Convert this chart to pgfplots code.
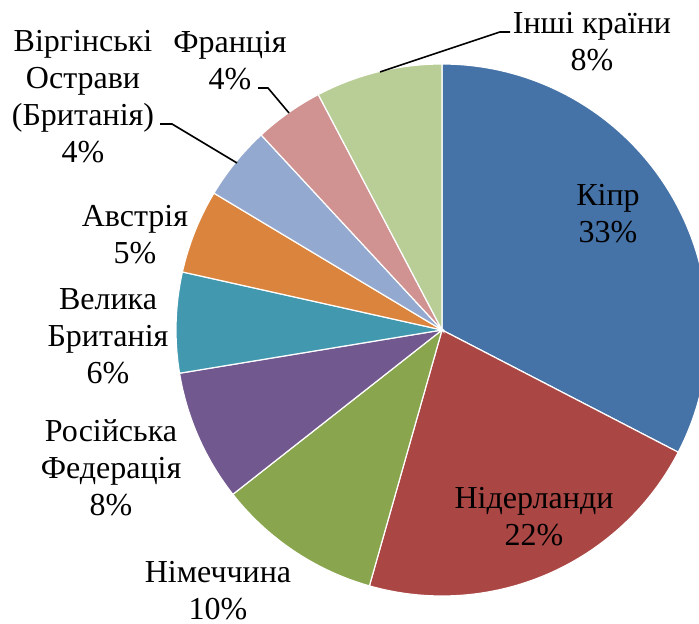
\documentclass[border=0pt]{standalone}
\usepackage{fontspec}
\setmainfont{Liberation Serif}
\usepackage{pgfplots}
\usepackage{pgfplotstable}
\pgfplotsset{compat=1.18}
\definecolor{c0}{HTML}{4572A7}
\definecolor{c1}{HTML}{AA4643}
\definecolor{c2}{HTML}{89A54E}
\definecolor{c3}{HTML}{71588F}
\definecolor{c4}{HTML}{4198AF}
\definecolor{c5}{HTML}{DB843D}
\definecolor{c6}{HTML}{93A9CF}
\definecolor{c7}{HTML}{D19392}
\definecolor{c8}{HTML}{B9CD96}
\tikzset{lbl/.style={font=\fontsize{16}{18.5}\selectfont, align=center, inner sep=0pt}}
\pgfplotstableread{
value
32.6
21.8
10.0
8.0
6.1
5.1
4.5
4.2
7.7
}\piedata
\begin{document}
\begin{tikzpicture}
\begin{axis}[
  hide axis, scale only axis,
  width=349.5pt, height=312pt,
  xmin=0, xmax=699, ymin=0, ymax=624,
  clip=true,
]
\pgfmathsetmacro\cum{0}
\pgfplotsforeachungrouped \i in {0,...,8}{
  \pgfplotstablegetelem{\i}{value}\of\piedata
  \pgfmathsetmacro\a{90-3.6*\cum}
  \pgfmathsetmacro\b{90-3.6*(\cum+\pgfplotsretval)}
  \pgfmathsetmacro\cum{\cum+\pgfplotsretval}
  \edef\cmd{\noexpand\addplot[fill=c\i, draw=white, line width=0.6pt, domain=\b:\a, samples=80, smooth]
    ({442+266*cos(x)},{294+266*sin(x)}) -- (axis cs:442,294) -- cycle;}
  \cmd
}
\node[lbl] at (axis cs:608,410) {Кіпр\\33\%};
\node[lbl] at (axis cs:534,107) {Нідерланди\\22\%};
\node[lbl] at (axis cs:218,33) {Німеччина\\10\%};
\node[lbl] at (axis cs:111,156) {Російська\\Федерація\\8\%};
\node[lbl] at (axis cs:108,287.5) {Велика\\Британія\\6\%};
\node[lbl] at (axis cs:135,389.5) {Австрія\\5\%};
\node[lbl] at (axis cs:83,527) {Віргінські\\Острави\\(Британія)\\4\%};
\node[lbl] at (axis cs:230,563) {Франція\\4\%};
\node[lbl] at (axis cs:592,582) {Інші країни\\8\%};
\draw[black, line width=0.8pt] (axis cs:160,500) -- (axis cs:172,500) -- (axis cs:237,461);
\draw[black, line width=0.8pt] (axis cs:258,536) -- (axis cs:268,536) -- (axis cs:289,511);
\draw[black, line width=0.8pt] (axis cs:510,592) -- (axis cs:500,592) -- (axis cs:380,552);
\end{axis}
\pgfresetboundingbox
\useasboundingbox (current axis.south west) rectangle (current axis.north east);
\end{tikzpicture}
\end{document}
